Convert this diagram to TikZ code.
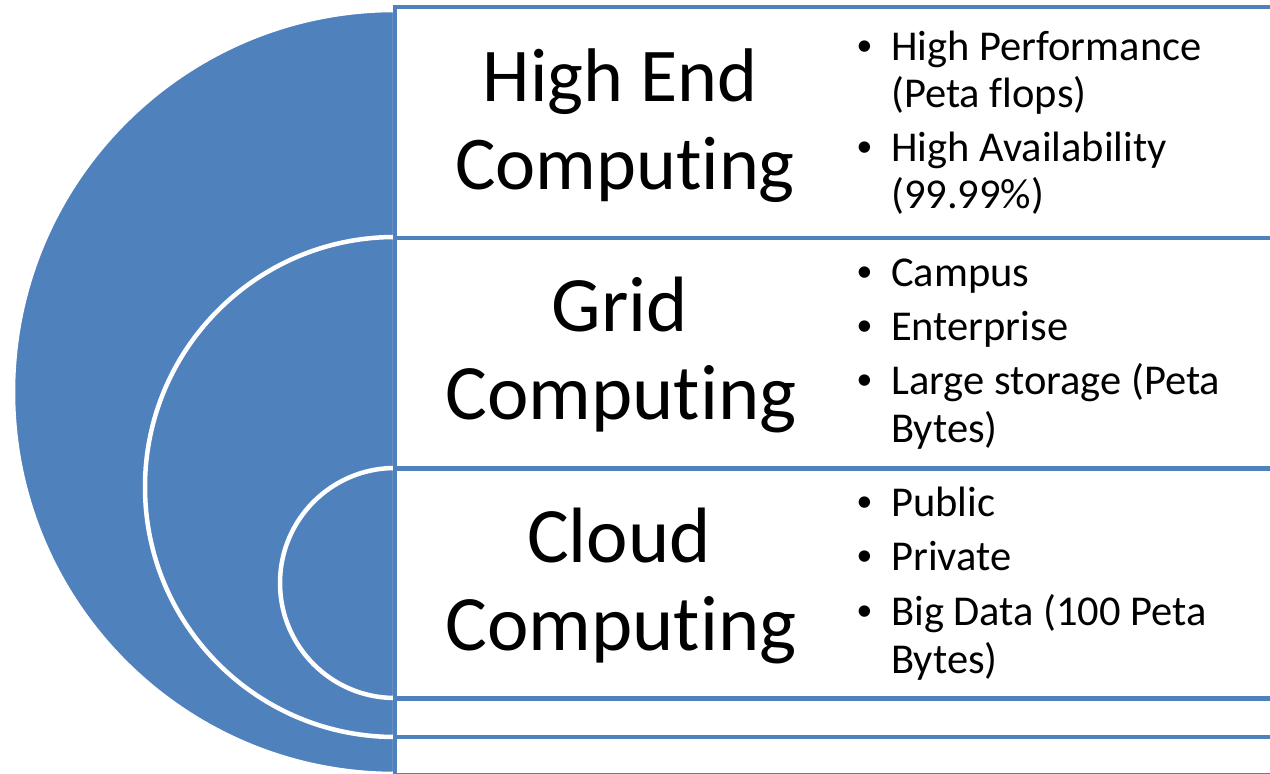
\documentclass[tikz,border=0pt]{standalone}
\usepackage{fontspec}
\setmainfont{Carlito}[Ligatures=NoCommon]
\newfontfamily\bulletfont{Liberation Sans}
\definecolor{accentblue}{HTML}{4F81BD}
\begin{document}
\begin{tikzpicture}[x=1pt,y=1pt,
  ring/.style={fill=accentblue, draw=white, line width=4.5pt},
  band/.style={fill=white, draw=accentblue, line width=4.5pt},
  title/.style={anchor=base, inner sep=0pt, font=\fontsize{78.5}{80}\selectfont},
  toptitle/.style={title, font=\fontsize{76}{80}\selectfont},
  item/.style={anchor=base west, inner sep=0pt, font=\fontsize{42.5}{48}\selectfont},
  dot/.style={anchor=base west, inner sep=0pt, font=\bulletfont\fontsize{42}{48}\selectfont}]
\useasboundingbox (0,0) rectangle (1270,774);
\clip (0,0) rectangle (1270,774);

% nested half discs
\draw[ring] (395,764) arc[start angle=90, end angle=270, radius=382] -- cycle;
\draw[ring] (395,537) arc[start angle=90, end angle=270, radius=250] -- cycle;
\draw[ring] (395,306) arc[start angle=90, end angle=270, radius=115] -- cycle;

% stacked bands
\draw[band] (395,536) rectangle (1300,767);
\draw[band] (395,305.5) rectangle (1300,536);
\draw[band] (395,75.5) rectangle (1300,305.5);
\draw[band] (395,37) rectangle (1300,75.5);
\draw[band] (395,-1) rectangle (1300,37);

% titles
\node[toptitle] (hec1) at (620,672.5) {High End};
\node[toptitle] (hec2) at (625,584.5) {Computing};
\node[title] (gc1) at (620,442) {Grid};
\node[title] (gc2) at (621,354) {Computing};
\node[title] (cc1) at (619,211.5) {Cloud};
\node[title] (cc2) at (621,123.5) {Computing};

% bullet lists
\node[dot] (d1) at (857,713) {•};
\node[item] (t1) at (891,713) {High Performance};
\node[item] (t1b) at (891,666) {(Peta flops)};
\node[dot] (d2) at (857,612) {•};
\node[item] (t2) at (891,612) {High Availability};
\node[item] (t2b) at (891,565) {(99.99\%)};

\node[dot] (d3) at (857,487) {•};
\node[item] (t3) at (891,487) {Campus};
\node[dot] (d4) at (857,433) {•};
\node[item] (t4) at (891,433) {Enterprise};
\node[dot] (d5) at (857,379) {•};
\node[item] (t5) at (891,379) {Large storage (Peta};
\node[item] (t5b) at (891,331) {Bytes)};

\node[dot] (d6) at (857,257) {•};
\node[item] (t6) at (891,257) {Public};
\node[dot] (d7) at (857,203) {•};
\node[item] (t7) at (891,203) {Private};
\node[dot] (d8) at (857,148) {•};
\node[item] (t8) at (891,148) {Big Data (100 Peta};
\node[item] (t8b) at (891,100) {Bytes)};
\end{tikzpicture}
\end{document}
